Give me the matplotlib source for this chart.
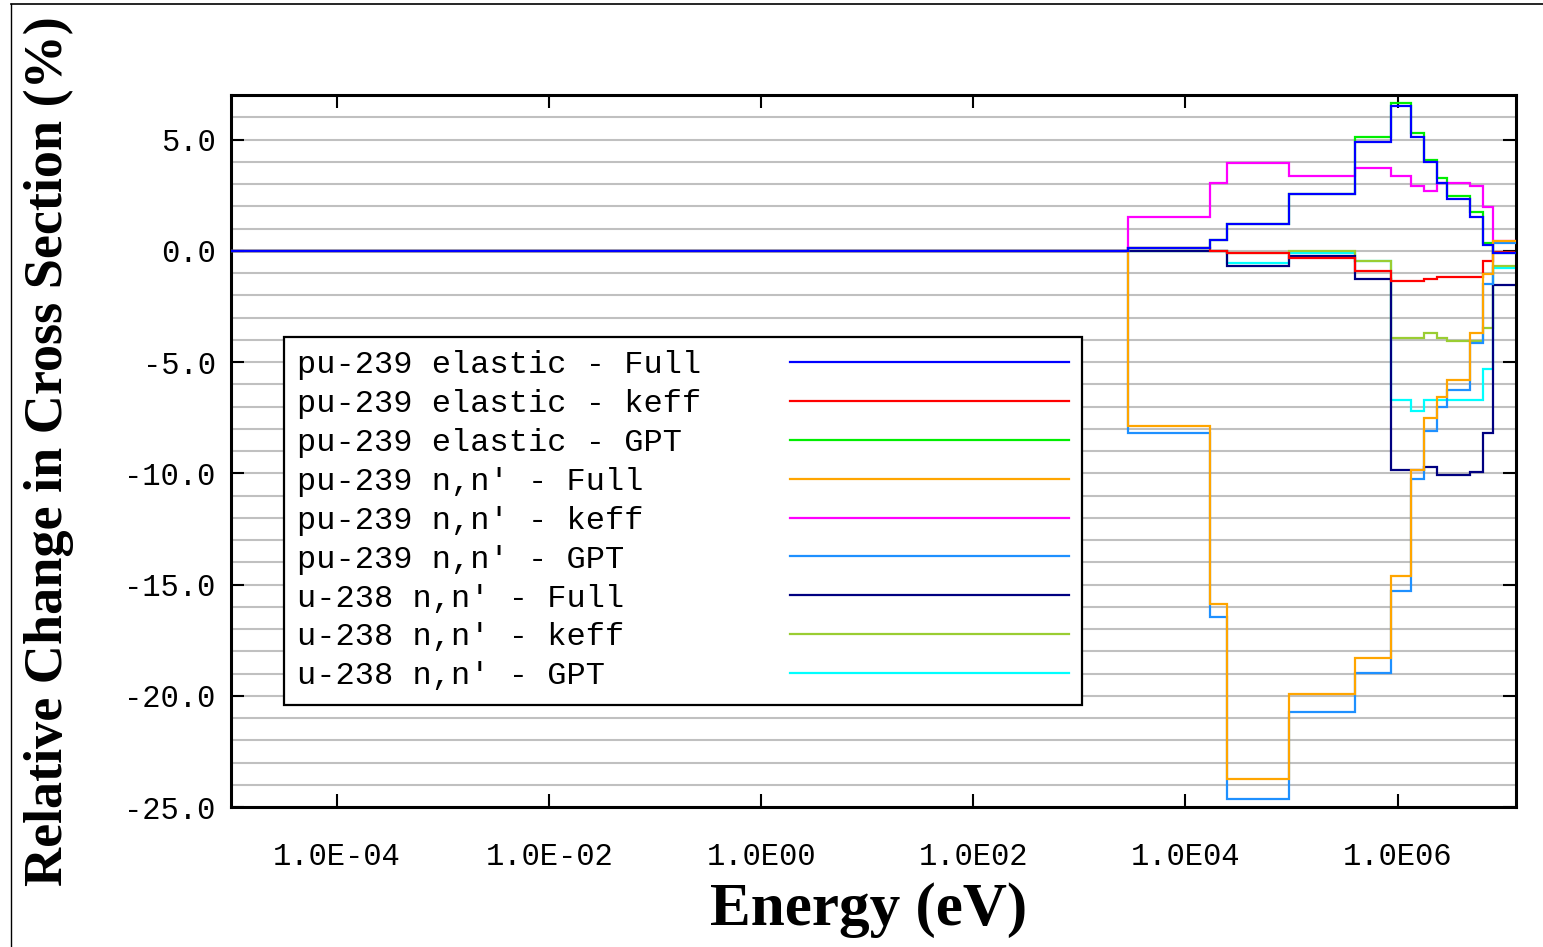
import numpy as np
import matplotlib
matplotlib.use("Agg")
import matplotlib.pyplot as plt
from matplotlib.lines import Line2D
from matplotlib.ticker import MultipleLocator, NullLocator, FixedLocator

# group boundaries (eV)
edges = [1e-5, 2.9e3, 1.72e4, 2.47e4, 9.5e4, 3.96e5, 8.65e5, 1.35e6,
         1.77e6, 2.36e6, 2.94e6, 4.83e6, 6.46e6, 7.94e6, 1.31e7]

# relative change (%) in each group
pu_el_full = [0, 0.12, 0.49, 1.18, 2.55, 4.88, 6.51, 5.12, 3.97, 3.03, 2.33, 1.52, 0.27, -0.12]
pu_el_keff = [0, 0.12, 0.0, -0.10, -0.31, -0.91, -1.37, -1.37, -1.27, -1.16, -1.16, -1.16, -0.48, -0.04]
pu_el_gpt = [0, 0.12, 0.49, 1.18, 2.55, 5.09, 6.66, 5.31, 4.06, 3.26, 2.45, 1.76, 0.36, -0.10]
pu_nn_full = [0, -7.87, -15.87, -23.73, -19.93, -18.29, -14.61, -9.84, -7.52, -6.58, -5.79, -3.69, -1.05, 0.46]
pu_nn_keff = [0, 1.51, 3.03, 3.94, 3.37, 3.70, 3.37, 2.90, 2.69, 3.03, 3.03, 2.92, 1.98, 0.46]
pu_nn_gpt = [0, -8.20, -16.45, -24.66, -20.72, -18.97, -15.29, -10.28, -8.08, -7.03, -6.26, -4.13, -1.50, 0.34]
u_nn_full = [0, 0.0, 0.0, -0.67, -0.25, -1.25, -9.84, -9.84, -9.73, -10.06, -10.06, -9.96, -8.20, -1.52]
u_nn_keff = [0, 0.0, 0.0, -0.10, 0.0, -0.46, -3.93, -3.93, -3.69, -3.93, -4.04, -4.04, -3.45, -0.68]
u_nn_gpt = [0, 0.0, 0.0, -0.57, -0.10, -0.46, -6.72, -7.18, -6.72, -6.72, -6.72, -6.72, -5.33, -0.79]

labels = ["pu-239 elastic - Full", "pu-239 elastic - keff", "pu-239 elastic - GPT",
          "pu-239 n,n' - Full", "pu-239 n,n' - keff", "pu-239 n,n' - GPT",
          "u-238 n,n' - Full", "u-238 n,n' - keff", "u-238 n,n' - GPT"]
series = [pu_el_full, pu_el_keff, pu_el_gpt, pu_nn_full, pu_nn_keff, pu_nn_gpt,
          u_nn_full, u_nn_keff, u_nn_gpt]
colors = ["#0000ff", "#ff0000", "#00ee00", "#ffa500", "#ff00ff", "#1e90ff",
          "#000080", "#9acd32", "#00ffff"]
zorders = [3.0, 2.5, 2.6, 2.9, 2.7, 2.8, 2.4, 2.3, 2.2]

xticks = [1e-4, 1e-2, 1e0, 1e2, 1e4, 1e6]
xticklabels = ["1.0E-04", "1.0E-02", "1.0E00", "1.0E02", "1.0E04", "1.0E06"]
yticks = [5, 0, -5, -10, -15, -20, -25]
yticklabels = ["5.0", "0.0", "-5.0", "-10.0", "-15.0", "-20.0", "-25.0"]

W, H = 1543, 947
fig = plt.figure(figsize=(W / 100, H / 100), dpi=100)
ax = fig.add_axes([231 / W, 1 - 807 / H, (1516 - 231) / W, (807 - 95) / H])

handles = []
for vals, c, z, lab in zip(series, colors, zorders, labels):
    ax.stairs(vals, edges, baseline=None, color=c, lw=1.6, zorder=z)
    handles.append(Line2D([], [], color=c, lw=1.6, label=lab.ljust(21)))

ax.set_xscale("log")
ax.set_xlim(1e-5, 1.31e7)
ax.set_ylim(-25, 7)

ax.xaxis.set_major_locator(FixedLocator(xticks))
ax.xaxis.set_minor_locator(NullLocator())
ax.set_xticks(xticks, xticklabels)
ax.set_yticks(yticks, yticklabels)
ax.yaxis.set_minor_locator(MultipleLocator(1))
ax.grid(True, which="both", axis="y", color="#c0c0c0", lw=1.5, zorder=1)
ax.set_axisbelow(True)

ax.tick_params(which="major", direction="in", length=9.5, width=1.5,
               top=True, right=True, labelsize=22)
ax.tick_params(which="minor", length=0)
ax.tick_params(axis="x", pad=25)
ax.tick_params(axis="y", pad=11)
for t in ax.get_xticklabels() + ax.get_yticklabels():
    t.set_fontfamily("Liberation Mono")
for s in ax.spines.values():
    s.set_linewidth(2.2)

ax.set_xlabel("Energy (eV)", fontfamily="Liberation Serif", fontweight="bold", fontsize=44)
ax.set_ylabel("Relative Change in Cross Section (%)", fontfamily="Liberation Serif",
              fontweight="bold", fontsize=39)
ax.xaxis.label.set_va("center")
ax.xaxis.set_label_coords((869 - 231) / 1285, (807 - 910) / 712)
ax.yaxis.set_label_coords((74 - 231) / 1285, 0.5)

leg = ax.legend(handles=handles, loc="upper left",
                bbox_to_anchor=((284 - 231) / 1285, (807 - 337) / 712),
                borderaxespad=0, markerfirst=False, fancybox=False,
                framealpha=1, edgecolor="black", handlelength=8.75,
                handletextpad=2.75, labelspacing=0.277, borderpad=0.42,
                prop={"family": "Liberation Mono", "size": 23})
leg.get_frame().set_linewidth(1.6)
leg.set_zorder(5)

# frame lines around the picture
fig.add_artist(Line2D([11 / W, 1], [1 - 4 / H, 1 - 4 / H], color="black", lw=1.2))
fig.add_artist(Line2D([11 / W, 11 / W], [0, 1 - 4 / H], color="black", lw=1.0))

fig.savefig("out.png", dpi=100)
